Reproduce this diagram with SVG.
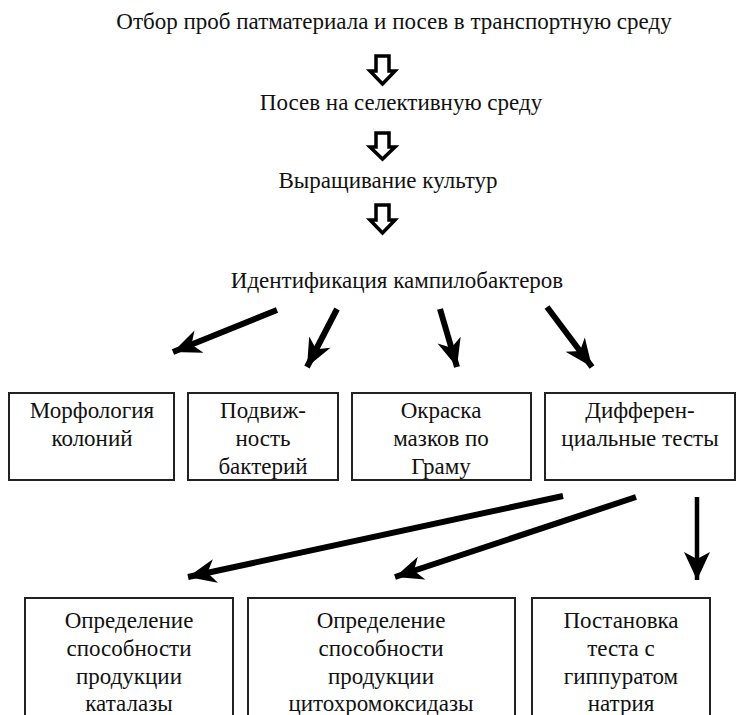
<svg xmlns="http://www.w3.org/2000/svg" width="738" height="715" viewBox="0 0 738 715">
<style>
.box{fill:#fff;stroke:#222;stroke-width:2}
.hollow{fill:#fff;stroke:#000;stroke-width:3.5;stroke-linejoin:miter}
.thick{stroke:#000;stroke-width:6;fill:none;marker-end:url(#head)}
.thin{stroke:#000;stroke-width:4.5;fill:none;marker-end:url(#head2)}
</style>
<defs>
<marker id="head" markerUnits="userSpaceOnUse" markerWidth="32" markerHeight="26" refX="28" refY="12" orient="auto" overflow="visible">
<path d="M28,12 L0,0 L8,12 L0,24 Z" fill="#000"/>
</marker>
<marker id="head2" markerUnits="userSpaceOnUse" markerWidth="32" markerHeight="28" refX="28" refY="13" orient="auto" overflow="visible">
<path d="M28,13 L0,0 L7,13 L0,26 Z" fill="#000"/>
</marker>
</defs>
<rect width="738" height="715" fill="#fff"/>
<g id="title"><text style="font-family:'Liberation Serif',serif" font-family="Liberation Serif" font-size="23" fill="#111" text-anchor="middle" x="394" y="29">Отбор проб патматериала и посев в транспортную среду</text></g>
<g id="step2"><text style="font-family:'Liberation Serif',serif" font-family="Liberation Serif" font-size="23" fill="#111" text-anchor="middle" x="401" y="110">Посев на селективную среду</text></g>
<g id="step3"><text style="font-family:'Liberation Serif',serif" font-family="Liberation Serif" font-size="23" fill="#111" text-anchor="middle" x="388" y="188">Выращивание культур</text></g>
<g id="step4"><text style="font-family:'Liberation Serif',serif" font-family="Liberation Serif" font-size="23" fill="#111" text-anchor="middle" x="397" y="288">Идентификация кампилобактеров</text></g>
<g id="box1"><rect class="box" x="9" y="393" width="165" height="87"/>
<text style="font-family:'Liberation Serif',serif" font-family="Liberation Serif" font-size="23" fill="#111" text-anchor="middle" x="92" y="418">Морфология</text>
<text style="font-family:'Liberation Serif',serif" font-family="Liberation Serif" font-size="23" fill="#111" text-anchor="middle" x="92" y="446">колоний</text></g>
<g id="box2"><rect class="box" x="188" y="393" width="150" height="87"/>
<text style="font-family:'Liberation Serif',serif" font-family="Liberation Serif" font-size="23" fill="#111" text-anchor="middle" x="263" y="418">Подвиж-</text>
<text style="font-family:'Liberation Serif',serif" font-family="Liberation Serif" font-size="23" fill="#111" text-anchor="middle" x="263" y="446">ность</text>
<text style="font-family:'Liberation Serif',serif" font-family="Liberation Serif" font-size="23" fill="#111" text-anchor="middle" x="263" y="474">бактерий</text></g>
<g id="box3"><rect class="box" x="352" y="393" width="179" height="87"/>
<text style="font-family:'Liberation Serif',serif" font-family="Liberation Serif" font-size="23" fill="#111" text-anchor="middle" x="441" y="418">Окраска</text>
<text style="font-family:'Liberation Serif',serif" font-family="Liberation Serif" font-size="23" fill="#111" text-anchor="middle" x="441" y="446">мазков по</text>
<text style="font-family:'Liberation Serif',serif" font-family="Liberation Serif" font-size="23" fill="#111" text-anchor="middle" x="441" y="474">Граму</text></g>
<g id="box4"><rect class="box" x="545" y="393" width="190" height="87"/>
<text style="font-family:'Liberation Serif',serif" font-family="Liberation Serif" font-size="23" fill="#111" text-anchor="middle" x="640" y="418">Дифферен-</text>
<text style="font-family:'Liberation Serif',serif" font-family="Liberation Serif" font-size="23" fill="#111" text-anchor="middle" x="640" y="446">циальные тесты</text></g>
<g id="box5"><rect class="box" x="25" y="598" width="208" height="130"/>
<text style="font-family:'Liberation Serif',serif" font-family="Liberation Serif" font-size="23" fill="#111" text-anchor="middle" x="129" y="628">Определение</text>
<text style="font-family:'Liberation Serif',serif" font-family="Liberation Serif" font-size="23" fill="#111" text-anchor="middle" x="129" y="656">способности</text>
<text style="font-family:'Liberation Serif',serif" font-family="Liberation Serif" font-size="23" fill="#111" text-anchor="middle" x="129" y="684">продукции</text>
<text style="font-family:'Liberation Serif',serif" font-family="Liberation Serif" font-size="23" fill="#111" text-anchor="middle" x="129" y="711">каталазы</text></g>
<g id="box6"><rect class="box" x="248" y="598" width="267" height="130"/>
<text style="font-family:'Liberation Serif',serif" font-family="Liberation Serif" font-size="23" fill="#111" text-anchor="middle" x="381" y="628">Определение</text>
<text style="font-family:'Liberation Serif',serif" font-family="Liberation Serif" font-size="23" fill="#111" text-anchor="middle" x="381" y="656">способности</text>
<text style="font-family:'Liberation Serif',serif" font-family="Liberation Serif" font-size="23" fill="#111" text-anchor="middle" x="381" y="684">продукции</text>
<text style="font-family:'Liberation Serif',serif" font-family="Liberation Serif" font-size="23" fill="#111" text-anchor="middle" x="381" y="711">цитохромоксидазы</text></g>
<g id="box7"><rect class="box" x="532" y="598" width="178" height="130"/>
<text style="font-family:'Liberation Serif',serif" font-family="Liberation Serif" font-size="23" fill="#111" text-anchor="middle" x="621" y="628">Постановка</text>
<text style="font-family:'Liberation Serif',serif" font-family="Liberation Serif" font-size="23" fill="#111" text-anchor="middle" x="621" y="656">теста с</text>
<text style="font-family:'Liberation Serif',serif" font-family="Liberation Serif" font-size="23" fill="#111" text-anchor="middle" x="621" y="684">гиппуратом</text>
<text style="font-family:'Liberation Serif',serif" font-family="Liberation Serif" font-size="23" fill="#111" text-anchor="middle" x="621" y="711">натрия</text></g>
<g id="connectors">
<path class="hollow" d="M376,56 H389 V71 H395 L382.5,84 L370,71 H376 Z"/>
<path class="hollow" d="M376,133 H389 V147 H395 L382.5,159 L370,147 H376 Z"/>
<path class="hollow" d="M376,205 H389 V220 H395 L382.5,233 L370,220 H376 Z"/>
<line class="thick" x1="277" y1="310" x2="173" y2="352"/>
<line class="thick" x1="337" y1="309" x2="307" y2="367"/>
<line class="thick" x1="440" y1="309" x2="457" y2="367"/>
<line class="thick" x1="547" y1="307" x2="592" y2="367"/>
<line class="thick" x1="563" y1="496" x2="188" y2="577"/>
<line class="thick" x1="636" y1="497" x2="395" y2="577"/>
<line class="thin" x1="697" y1="497" x2="697" y2="580"/>
</g>
</svg>
